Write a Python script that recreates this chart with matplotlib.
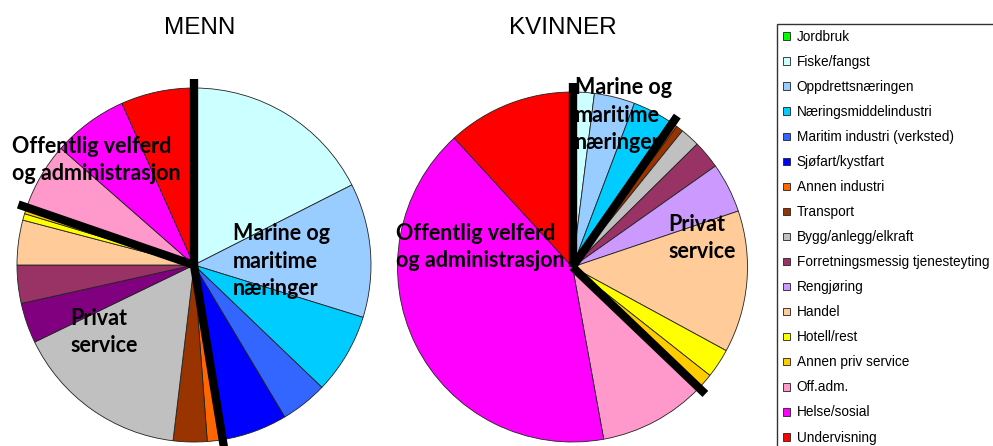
import numpy as np
import matplotlib
matplotlib.use('Agg')
import matplotlib.pyplot as plt

categories = ['Jordbruk', 'Fiske/fangst', 'Oppdrettsnæringen', 'Næringsmiddelindustri',
              'Maritim industri (verksted)', 'Sjøfart/kystfart', 'Annen industri', 'Transport',
              'Bygg/anlegg/elkraft', 'Forretningsmessig tjenesteyting', 'Rengjøring', 'Handel',
              'Hotell/rest', 'Annen priv service', 'Off.adm.', 'Helse/sosial', 'Undervisning']

# andel sysselsatte (prosent), lest av figuren
menn = [0.0, 17.6, 12.3, 7.4, 4.3, 6.0, 1.4, 3.1, 16.0, 3.7, 3.5, 4.1, 0.6, 0.6, 6.2, 6.9, 6.7]
kvinner = [0.0, 2.0, 3.75, 3.6, 0.15, 0.15, 0.5, 0.65, 1.8, 2.6, 4.6, 13.1, 2.7, 1.5, 10.0, 41.0, 11.8]

colors = ['#00FF00', '#CCFFFF', '#99CCFF', '#00CCFF', '#3366FF', '#0000FF', '#FF6600', '#993300',
          '#C0C0C0', '#993366', '#CC99FF', '#FFCC99', '#FFFF00', '#FFCC00', '#FF99CC', '#FF00FF',
          '#FF0000']
colors_menn = colors[:9] + ['#800080', '#993366'] + colors[11:]

# grupper: marine (0-5), privat (6-13), offentlig (14-16)
group_ends = [5, 13]

W, H = 993, 446
fig = plt.figure(figsize=(W / 100, H / 100), dpi=100)


def px_axes(cx, cy, r):
    return fig.add_axes([(cx - r) / W, (H - cy - r) / H, 2 * r / W, 2 * r / H])


def draw_pie(ax, values, cols):
    wedges, _ = ax.pie(values, colors=cols, startangle=90, counterclock=False, radius=1,
                       wedgeprops=dict(edgecolor='#222222', linewidth=0.6))
    cum = np.cumsum(values) / np.sum(values)
    angles = [0.0] + [cum[i] * 360 for i in group_ends]
    for a in angles:
        t = np.deg2rad(90 - a)
        ax.plot([0, 1.05 * np.cos(t)], [0, 1.05 * np.sin(t)], color='black',
                linewidth=6, solid_capstyle='butt', clip_on=False, zorder=5)
    ax.set_xlim(-1, 1)
    ax.set_ylim(-1, 1)
    ax.axis('off')
    return wedges


ax1 = px_axes(194, 265, 177)
draw_pie(ax1, menn, colors_menn)
ax2 = px_axes(572.5, 267, 175)
wedges = draw_pie(ax2, kvinner, colors)

tfont = dict(family='Liberation Sans', fontsize=17.5)
fig.text(200 / W, 1 - 28 / H, 'MENN', ha='center', va='center', **tfont)
fig.text(563 / W, 1 - 28 / H, 'KVINNER', ha='center', va='center', **tfont)

lfont = dict(family='Lato', fontweight='bold', fontsize=15.5, linespacing=1.4,
             ha='left', va='center', zorder=10)
fig.text(12 / W, 1 - 160 / H, 'Offentlig velferd\nog administrasjon', **lfont)
fig.text(233 / W, 1 - 261 / H, 'Marine og\nmaritime\nnæringer', **lfont)
fig.text(70 / W, 1 - 332 / H, 'Privat\nservice', **lfont)
fig.text(575 / W, 1 - 115 / H, 'Marine og\nmaritime\nnæringer', **lfont)
fig.text(396 / W, 1 - 247 / H, 'Offentlig velferd\nog administrasjon', **lfont)
fig.text(668 / W, 1 - 238 / H, 'Privat\nservice', **lfont)

leg = fig.legend(wedges, categories, loc='upper left', bbox_to_anchor=(777 / W, 1 - 24 / H),
                 bbox_transform=fig.transFigure, fancybox=False, shadow=False,
                 prop=dict(family='Liberation Sans', size=9.8), handlelength=0.5,
                 handleheight=0.5, handletextpad=0.5, labelspacing=0.81, borderpad=0.45,
                 borderaxespad=0)
leg.get_frame().set_edgecolor('black')
leg.get_frame().set_linewidth(1.0)

fig.savefig('out.png', dpi=100)
